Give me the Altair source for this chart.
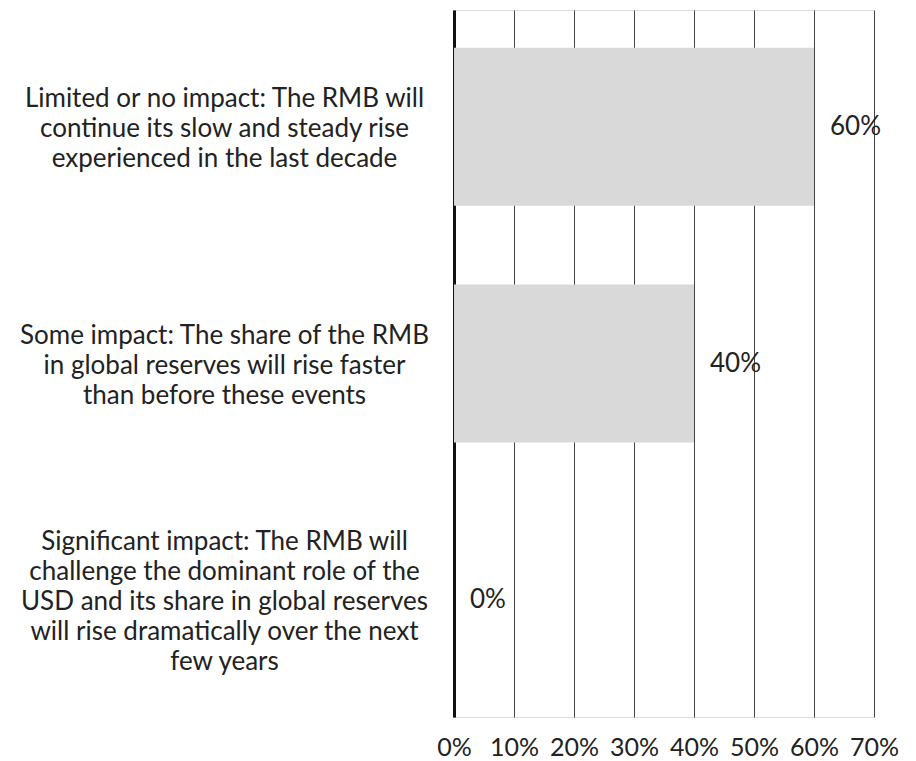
import altair as alt
import pandas as pd

categories = [
    "Limited or no impact: The RMB will|continue its slow and steady rise|experienced in the last decade",
    "Some impact: The share of the RMB|in global reserves will rise faster|than before these events",
    "Significant impact: The RMB will|challenge the dominant role of the|USD and its share in global reserves|will rise dramatically over the next|few years",
]
shares = [0.60, 0.40, 0.00]
x_ticks = [0.0, 0.1, 0.2, 0.3, 0.4, 0.5, 0.6, 0.7]

df = pd.DataFrame({"category": categories, "share": shares})

FONT = "Lato"
TXT = "#222222"

y_enc = alt.Y(
    "category:N",
    sort=categories,
    title=None,
    scale=alt.Scale(paddingInner=0.333, paddingOuter=0.16),
    axis=alt.Axis(
        labelExpr="split(datum.label, '|')",
        labelAlign="center",
        labelBaseline="middle",
        labelPadding=230,
        labelLimit=0,
        labelFont=FONT,
        labelFontSize=26,
        labelLineHeight=30,
        labelColor=TXT,
        labelOffset={
            "condition": {"test": "length(split(datum.label, '|')) == 5", "value": -58},
            "value": -28,
        },
        ticks=False,
        domain=True,
        domainColor="#111111",
        domainWidth=3,
        grid=False,
    ),
)

x_enc = alt.X(
    "share:Q",
    title=None,
    scale=alt.Scale(domain=[0, 0.7], nice=False),
    axis=alt.Axis(
        values=x_ticks,
        format=".0%",
        grid=True,
        gridColor="#444444",
        gridWidth=1,
        gridOpacity=1,
        ticks=False,
        domain=False,
        labelFont=FONT,
        labelFontSize=25,
        labelColor=TXT,
        labelPadding=18,
        labelBaseline="top",
        labelFlush=False,
    ),
)

bars = alt.Chart(df).mark_bar(color="#d9d9d9").encode(x=x_enc, y=y_enc)

labels = alt.Chart(df).mark_text(
    align="left", baseline="middle", dx=16, font=FONT, fontSize=26, color=TXT
).encode(
    x=alt.X("share:Q"),
    y=alt.Y("category:N", sort=categories),
    text=alt.Text("share:Q", format=".0%"),
)

chart = (
    alt.layer(bars, labels)
    .properties(
        width=420,
        height=707,
        autosize=alt.AutoSizeParams(type="none"),
        padding={"left": 446, "top": 2, "right": 34, "bottom": 44},
    )
    .configure_view(stroke=None)
    .configure(background="white")
)

chart.save("out.html", embed_options={"renderer": "svg", "actions": False})
